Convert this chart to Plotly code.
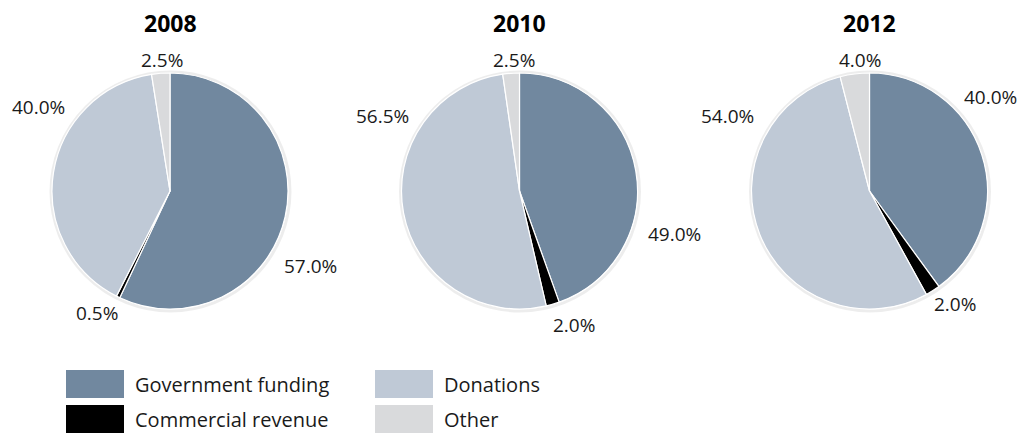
import plotly.graph_objects as go

# Funding mix by year
years = ["2008", "2010", "2012"]
categories = ["Government funding", "Commercial revenue", "Donations", "Other"]
government = [57.0, 49.0, 40.0]
commercial = [0.5, 2.0, 2.0]
donations = [40.0, 56.5, 54.0]
other = [2.5, 2.5, 4.0]

colors = ["#71889f", "#000000", "#bfc9d6", "#d9dadc"]

W, H = 1020, 433
FONT = "Open Sans"

# pie centres and radius in pixels
centres = [(170, 191), (519.5, 191), (869.5, 191)]
R = 118

# label anchor points (pixels), in category order per year
label_pos = [
    [(310, 266), (97, 313), (38, 107), (162, 60)],
    [(674, 234), (574, 325), (382, 116), (514, 60)],
    [(990, 97), (955, 304), (727, 116), (860, 60)],
]


def px(x, y):
    return x / W, 1 - y / H


fig = go.Figure()
shapes = []
annotations = []

for i, yr in enumerate(years):
    vals = [government[i], commercial[i], donations[i], other[i]]
    cx, cy = centres[i]
    x0, y1 = px(cx - R, cy - R)
    x1, y0 = px(cx + R, cy + R)
    fig.add_trace(go.Pie(
        labels=categories,
        values=vals,
        sort=False,
        direction="clockwise",
        rotation=0,
        domain=dict(x=[x0, x1], y=[y0, y1]),
        marker=dict(colors=colors, line=dict(color="white", width=1.2)),
        textinfo="none",
        hoverinfo="label+value",
        showlegend=False,
    ))
    # soft halo around the pie
    ax, ay = px(cx + 0.5, cy + 0.5)
    shapes.append(dict(
        type="circle", xref="paper", yref="paper",
        xsizemode="pixel", ysizemode="pixel",
        xanchor=ax, yanchor=ay,
        x0=-R - 1.5, x1=R + 1.5, y0=-R - 1.5, y1=R + 1.5,
        line=dict(color="rgba(0,0,0,0.07)", width=3),
        fillcolor="rgba(0,0,0,0)", layer="below",
    ))
    # year title
    tx, ty = px(cx, 23)
    annotations.append(dict(
        x=tx, y=ty, xref="paper", yref="paper", text=f"<b>{yr}</b>",
        showarrow=False, font=dict(family=FONT, size=23, color="#000000"),
        xanchor="center", yanchor="middle",
    ))
    # percentage labels
    for v, (lx, ly) in zip(vals, label_pos[i]):
        ux, uy = px(lx, ly)
        annotations.append(dict(
            x=ux, y=uy, xref="paper", yref="paper", text=f"{v:.1f}%",
            showarrow=False, font=dict(family=FONT, size=19, color="#1a1a1a"),
            xanchor="center", yanchor="middle",
        ))

# legend drawn as swatches and labels
legend_slots = [(66, 370), (66, 405), (375, 370), (375, 405)]
for cat, col, (lx, ly) in zip(categories, colors, legend_slots):
    sx0, sy1 = px(lx, ly)
    sx1, sy0 = px(lx + 58, ly + 28)
    shapes.append(dict(
        type="rect", xref="paper", yref="paper",
        x0=sx0, x1=sx1, y0=sy0, y1=sy1,
        fillcolor=col, line=dict(width=0),
    ))
    tx, ty = px(lx + 68, ly + 14)
    annotations.append(dict(
        x=tx, y=ty, xref="paper", yref="paper", text=cat,
        showarrow=False, font=dict(family=FONT, size=20, color="#1a1a1a"),
        xanchor="left", yanchor="middle", borderpad=0,
    ))

fig.update_layout(
    width=W, height=H,
    margin=dict(l=0, r=0, t=0, b=0),
    paper_bgcolor="white",
    plot_bgcolor="white",
    shapes=shapes,
    annotations=annotations,
    showlegend=False,
)

fig.write_html("out.html")
